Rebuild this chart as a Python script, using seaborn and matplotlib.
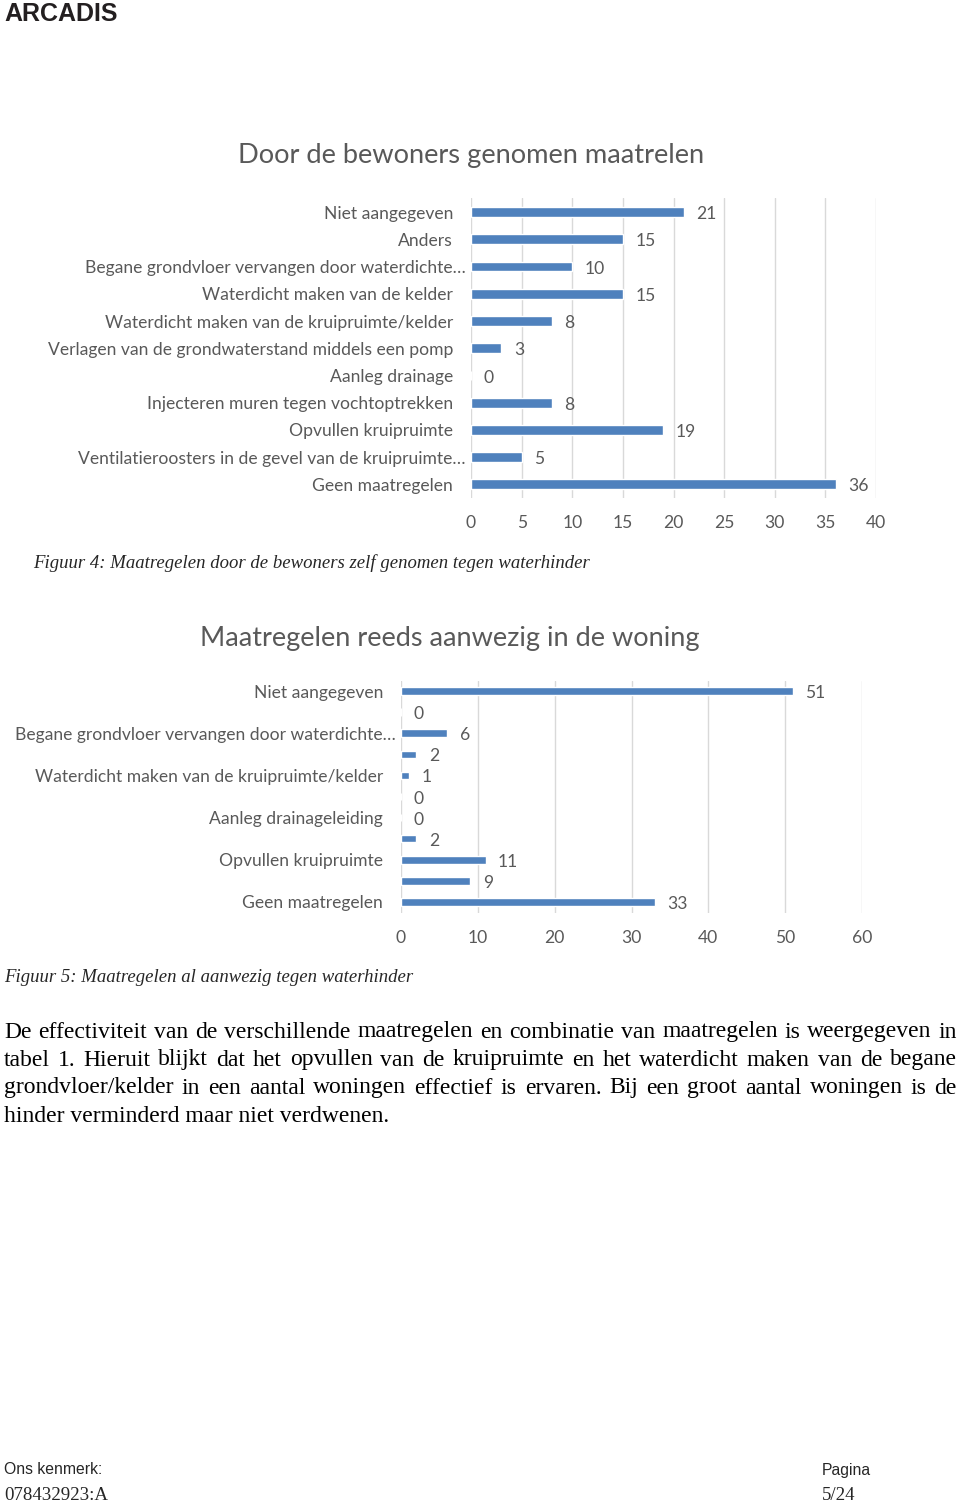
import matplotlib
matplotlib.use("Agg")
import matplotlib.pyplot as plt
import matplotlib.transforms as mtransforms
import seaborn as sns

sns.set_style("white")
plt.rcParams['font.family'] = ['Lato', 'DejaVu Sans']

W, H = 960, 1506
GREY = '#595959'
BLUE = '#4F81BD'

# chart 1: measures taken by residents
cat1 = ['Niet aangegeven', 'Anders',
        'Begane grondvloer vervangen door waterdichte…',
        'Waterdicht maken van de kelder',
        'Waterdicht maken van de kruipruimte/kelder',
        'Verlagen van de grondwaterstand middels een pomp',
        'Aanleg drainage',
        'Injecteren muren tegen vochtoptrekken',
        'Opvullen kruipruimte',
        'Ventilatieroosters in de gevel van de kruipruimte…',
        'Geen maatregelen']
val1 = [21, 15, 10, 15, 8, 3, 0, 8, 19, 5, 36]
ticks1 = [0, 5, 10, 15, 20, 25, 30, 35, 40]

# chart 2: measures already present (every other label hidden, as in Excel)
cat2 = ['Niet aangegeven', 'Anders',
        'Begane grondvloer vervangen door waterdichte…',
        'Waterdicht maken van de kelder',
        'Waterdicht maken van de kruipruimte/kelder',
        'Verlagen van de grondwaterstand middels een pomp',
        'Aanleg drainageleiding',
        'Injecteren muren tegen vochtoptrekken',
        'Opvullen kruipruimte',
        'Ventilatieroosters in de gevel van de kruipruimte…',
        'Geen maatregelen']
val2 = [51, 0, 6, 2, 1, 0, 0, 2, 11, 9, 33]
ticks2 = [0, 10, 20, 30, 40, 50, 60]

paragraph = [
    'De effectiviteit van de verschillende maatregelen en combinatie van maatregelen is weergegeven in',
    'tabel 1. Hieruit blijkt dat het opvullen van de kruipruimte en het waterdicht maken van de begane',
    'grondvloer/kelder in een aantal woningen effectief is ervaren. Bij een groot aantal woningen is de',
    'hinder verminderd maar niet verdwenen.',
]


def px_axes(fig, left, top, right, bottom):
    return fig.add_axes([left / W, 1 - bottom / H, (right - left) / W, (bottom - top) / H])


def hbar(ax, cats, vals, ticks, show_every=1, fs=12.6):
    sns.barplot(x=vals, y=cats, orient='h', color=BLUE, width=0.36,
                saturation=1, ax=ax)
    labels = ax.bar_label(ax.containers[0], padding=9, color=GREY, fontsize=fs)
    for t in labels:
        t.xyann = (t.xyann[0], t.xyann[1] - 1.5)
    ax.set_xlim(ticks[0], ticks[-1])
    ax.set_ylim(len(cats) - 0.5, -0.5)
    ax.set_xticks(ticks)
    ax.set_yticks(range(len(cats)))
    ax.set_yticklabels([c if i % show_every == 0 else '' for i, c in enumerate(cats)])
    ax.tick_params(axis='y', length=0, pad=13, labelsize=fs, labelcolor=GREY)
    ax.tick_params(axis='x', length=0, pad=12.5, labelsize=fs, labelcolor=GREY)
    # truncated labels overhang the label area a little, like in Excel
    shift = mtransforms.ScaledTranslation(13 / 100, 0, ax.figure.dpi_scale_trans)
    for lab in ax.get_yticklabels():
        if lab.get_text().endswith('…'):
            lab.set_transform(lab.get_transform() + shift)
    ax.xaxis.grid(True, color='#D9D9D9', lw=1)
    ax.set_axisbelow(True)
    ax.set_xlabel('')
    ax.set_ylabel('')
    sns.despine(ax=ax, left=True, bottom=True)


fig = plt.figure(figsize=(W / 100, H / 100), dpi=100)

# logo
fig.text(4 / W, 1 - 14 / H, 'ARCADIS', fontsize=18, fontweight='bold', color='#231F20',
         family=['Liberation Sans'], va='center', ha='left')

# chart 1
fig.text(471 / W, 1 - 155 / H, 'Door de bewoners genomen maatrelen', fontsize=19.6,
         color=GREY, ha='center', va='center')
ax1 = px_axes(fig, 471, 198.5, 876, 498)
hbar(ax1, cat1, val1, ticks1)
fig.text(33 / W, 1 - 563 / H, 'Figuur 4: Maatregelen door de bewoners zelf genomen tegen waterhinder',
         fontsize=13.5, style='italic', family=['Liberation Serif'], va='center')

# chart 2
fig.text(449.5 / W, 1 - 638 / H, 'Maatregelen reeds aanwezig in de woning', fontsize=19.5,
         color=GREY, ha='center', va='center')
ax2 = px_axes(fig, 401, 680.5, 862, 912.5)
hbar(ax2, cat2, val2, ticks2, show_every=2)
fig.text(4 / W, 1 - 977 / H, 'Figuur 5: Maatregelen al aanwezig tegen waterhinder',
         fontsize=13.5, style='italic', family=['Liberation Serif'], va='center')

# justified paragraph
renderer = fig.canvas.get_renderer()
x0, x1 = 4, 957
for i, (line, y) in enumerate(zip(paragraph, [1032, 1060, 1088, 1117])):
    kw = dict(fontsize=17, family=['Liberation Serif'], va='center', color='black')
    if i == len(paragraph) - 1:
        fig.text(x0 / W, 1 - y / H, line, **kw)
        continue
    words = line.split()
    texts = [fig.text(0, 1 - y / H, w, **kw) for w in words]
    widths = [t.get_window_extent(renderer).width for t in texts]
    gap = (x1 - x0 - sum(widths)) / (len(words) - 1)
    x = x0
    for t, wd in zip(texts, widths):
        t.set_x(x / W)
        x += wd + gap

# footer
fig.text(4 / W, 1 - 1470 / H, 'Ons kenmerk:', fontsize=11.3, family=['Liberation Sans'], va='center')
fig.text(4 / W, 1 - 1495 / H, '078432923:A', fontsize=13.6, family=['Liberation Serif'], va='center')
fig.text(822 / W, 1 - 1470 / H, 'Pagina', fontsize=11.3, family=['Liberation Sans'], va='center')
fig.text(822 / W, 1 - 1495 / H, '5/24', fontsize=13.6, family=['Liberation Serif'], va='center')

fig.savefig('out.png', dpi=100)
